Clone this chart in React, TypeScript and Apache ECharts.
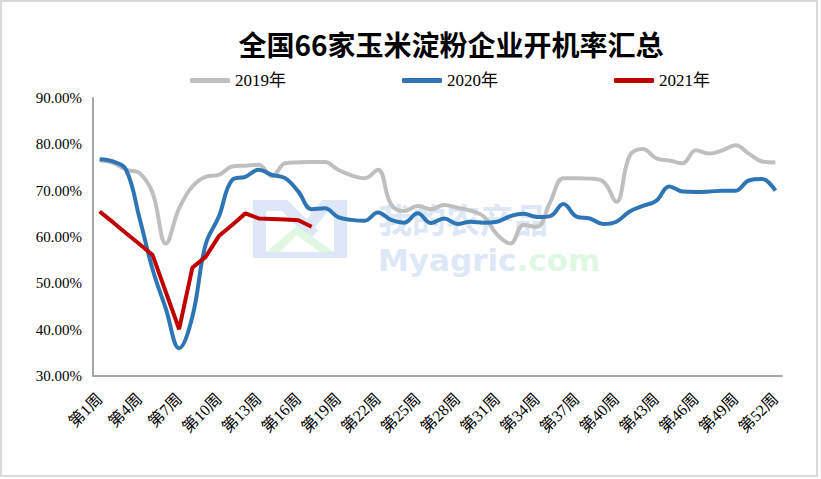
import React, { useEffect, useRef } from "react";
import * as echarts from "echarts";

const weeks: string[] = Array.from({ length: 52 }, (_, i) => `第${i + 1}周`);

const y2019: number[] = [
  76.5, 76.0, 74.5, 73.8, 69.5, 58.6, 66.2, 70.9, 73.0, 73.4,
  75.2, 75.4, 75.6, 73.1, 75.9, 76.1, 76.2, 76.2, 74.5, 73.3,
  72.7, 74.5, 67.0, 65.6, 66.7, 66.0, 66.9, 66.3, 65.7, 64.4,
  60.5, 58.6, 62.6, 62.2, 67.5, 72.7, 72.7, 72.6, 72.0, 67.6,
  77.5, 79.0, 77.0, 76.5, 75.9, 78.7, 78.0, 78.7, 79.8, 78.0,
  76.3, 76.1,
];

const y2020: number[] = [
  76.8, 76.3, 74.5, 64.2, 53.0, 44.5, 36.0, 42.8, 58.4, 64.4,
  72.3, 73.0, 74.5, 73.4, 72.7, 69.8, 66.0, 66.2, 64.3, 63.7,
  63.5, 65.3, 63.7, 63.1, 65.1, 63.0, 64.0, 62.8, 63.3, 63.1,
  63.3, 64.5, 65.0, 64.3, 64.5, 67.1, 64.4, 64.0, 62.8, 63.3,
  65.5, 66.7, 67.8, 70.9, 69.8, 69.7, 69.8, 70.0, 70.0, 72.2,
  72.5, 70.0,
];

const y2021: (number | null)[] = [
  65.5, 63.2, 60.8, 58.5, 56.1, 48.1, 40.1, 53.4, 55.7, 60.2,
  62.6, 65.1, 64.0, 63.9, 63.8, 63.6, 62.2,
];

const seriesNames: string[] = ["2019年", "2020年", "2021年"];
const yTicks = { min: 30, max: 90, step: 10 };

const SERIF = "Liberation Serif, Times New Roman, Noto Sans CJK SC, serif";

export default function App() {
  const ref = useRef<HTMLDivElement>(null);
  useEffect(() => {
    if (!ref.current) return;
    const chart = echarts.init(ref.current, undefined, { renderer: "svg" });
    const wm = "#dde7f6";
    const wmG = "#e0f7e3";
    const option: any = {
      animation: false,
      backgroundColor: "#ffffff",
      title: {
        text: "全国66家玉米淀粉企业开机率汇总",
        left: 446,
        top: 25,
        textAlign: "center",
        textStyle: {
          fontSize: 28,
          fontWeight: "bold",
          color: "#000",
          fontFamily: "Noto Sans CJK SC, sans-serif",
        },
      },
      legend: {
        data: seriesNames,
        left: 185,
        top: 67,
        icon: "roundRect",
        itemWidth: 40,
        itemHeight: 5,
        itemGap: 116,
        textStyle: { fontSize: 17, color: "#000", fontFamily: SERIF },
      },
      grid: { left: 93, right: 39, top: 98, bottom: 103, containLabel: false },
      xAxis: {
        type: "category",
        data: weeks,
        boundaryGap: true,
        axisLine: { show: true, lineStyle: { color: "#a6a6a6", width: 2 } },
        axisTick: { show: false },
        axisLabel: {
          interval: 2,
          rotate: 45,
          fontSize: 16,
          color: "#000",
          fontFamily: SERIF,
          margin: 20,
        },
        splitLine: { show: false },
      },
      yAxis: {
        type: "value",
        min: yTicks.min,
        max: yTicks.max,
        interval: yTicks.step,
        axisLine: { show: true, lineStyle: { color: "#a6a6a6", width: 2 } },
        axisTick: { show: false },
        splitLine: { show: false },
        axisLabel: {
          formatter: (v: number) => v.toFixed(2) + "%",
          fontSize: 15,
          color: "#000",
          fontFamily: SERIF,
          margin: 11,
        },
      },
      graphic: [
        {
          type: "rect",
          shape: { x: 1, y: 1, width: 816, height: 475 },
          style: { fill: "none", stroke: "#d9d9d9", lineWidth: 2 },
          z: -10,
        },
        // watermark logo
        { type: "rect", shape: { x: 253, y: 200, width: 13, height: 58 }, style: { fill: wm }, z: -5 },
        { type: "polygon", shape: { points: [[253, 200], [287, 200], [318, 230], [310, 240], [282, 211], [253, 211]] }, style: { fill: wm }, z: -5 },
        { type: "polygon", shape: { points: [[305, 222], [322, 200], [347, 200], [347, 211], [328, 211], [313, 230]] }, style: { fill: wm }, z: -5 },
        { type: "rect", shape: { x: 334, y: 200, width: 13, height: 58 }, style: { fill: wm }, z: -5 },
        { type: "polygon", shape: { points: [[266, 252], [297, 226], [334, 252], [320, 252], [297, 235], [280, 252]] }, style: { fill: wmG }, z: -5 },
        { type: "rect", shape: { x: 266, y: 252, width: 68, height: 6 }, style: { fill: wm }, z: -5 },
        {
          type: "text",
          x: 378,
          y: 192,
          style: {
            text: "{c|我的农产品}\n{a|Myagric}{b|.com}",
            rich: {
              c: { fontSize: 34, lineHeight: 52, fill: wm, fontFamily: "Noto Sans CJK SC, sans-serif", fontWeight: "bold" },
              a: { fontSize: 31, lineHeight: 32, fill: wm, fontFamily: "DejaVu Sans, sans-serif", fontWeight: "bold" },
              b: { fontSize: 31, lineHeight: 32, fill: wmG, fontFamily: "DejaVu Sans, sans-serif", fontWeight: "bold" },
            },
          },
          z: -5,
        },
      ],
      series: [
        {
          name: seriesNames[0],
          type: "line",
          data: y2019,
          smooth: 0.4,
          showSymbol: false,
          symbol: "none",
          lineStyle: { color: "#bfbfbf", width: 4 },
          itemStyle: { color: "#bfbfbf" },
          z: 2,
        },
        {
          name: seriesNames[1],
          type: "line",
          data: y2020,
          smooth: 0.4,
          showSymbol: false,
          symbol: "none",
          lineStyle: { color: "#2e75b6", width: 4 },
          itemStyle: { color: "#2e75b6" },
          z: 3,
        },
        {
          name: seriesNames[2],
          type: "line",
          data: y2021,
          smooth: false,
          showSymbol: false,
          symbol: "none",
          lineStyle: { color: "#c00000", width: 4 },
          itemStyle: { color: "#c00000" },
          z: 4,
        },
      ],
    };
    chart.setOption(option);
    return () => chart.dispose();
  }, []);
  return (
    <div
      ref={ref}
      style={{ position: "fixed", left: 0, top: 0, width: 821, height: 479, background: "#fff" }}
    />
  );
}
